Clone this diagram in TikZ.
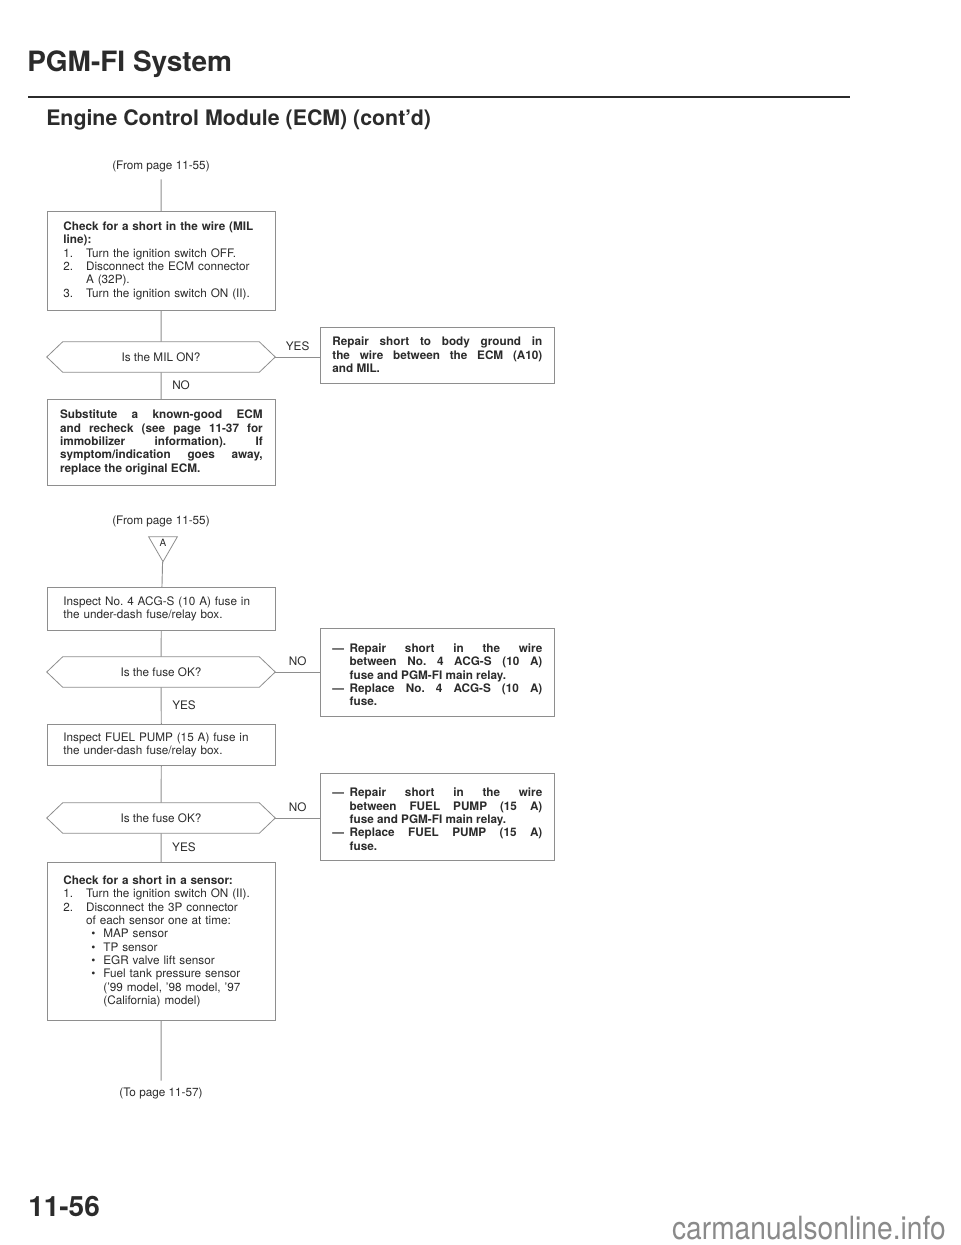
\documentclass[tikz,border=0pt]{standalone}
\usepackage{fontspec}
\setmainfont{TeX Gyre Heros}
\usetikzlibrary{positioning,shapes.geometric}
\definecolor{inkgray}{HTML}{2B2B2B}
\definecolor{linegray}{HTML}{8E8E8E}
\definecolor{webgray}{HTML}{8A8A8A}
\frenchspacing

% one line of a box, indented
\newcommand{\lineat}[2]{\par\noindent\hspace*{#1}{#2}}
% dash item of a repair box
\newcommand{\dashitem}[1]{\par\hangindent=13pt\hangafter=1\noindent\makebox[13pt][l]{\textemdash}#1\par}
% outline of a question node
\newcommand{\qhex}[1]{%
  \draw[linegray, line width=0.6pt] (#1.west) -- ([xshift=12pt]#1.north west)
    -- ([xshift=-12pt]#1.north east) -- (#1.east) -- ([xshift=-12pt]#1.south east)
    -- ([xshift=12pt]#1.south west) -- cycle;}

\tikzset{
  stepbox/.style={draw=linegray, line width=0.6pt, anchor=north west,
    inner xsep=12pt, inner ysep=3pt, text width=147pt, align=left,
    font=\fontsize{8.8}{10}\selectfont, text=inkgray},
  fixbox/.style={stepbox, inner xsep=9pt, text width=157.5pt, align=justify,
    font=\bfseries\fontsize{8.8}{10}\selectfont},
  qbox/.style={minimum width=171pt, minimum height=22.5pt, inner sep=0pt,
    font=\fontsize{8.8}{10}\selectfont, text=inkgray},
  lbl/.style={font=\fontsize{8.8}{10}\selectfont, text=inkgray, inner sep=1pt},
  link/.style={draw=linegray, line width=0.7pt}
}

\begin{document}
\begin{tikzpicture}[x=0.75pt, y=-0.75pt]
\useasboundingbox (0,0) rectangle (960,1245);
\fill[white] (0,0) rectangle (960,1245);

% heading
\node[anchor=west, inner sep=0pt, text=inkgray, font=\bfseries\fontsize{21}{24}\selectfont] (pagetitle) at (27,64) {PGM-FI System};
\draw[inkgray, line width=1.4pt] (28,97) -- (850,97);
\node[anchor=west, inner sep=0pt, text=inkgray, font=\bfseries\fontsize{16}{19}\selectfont] (subtitle) at (46,120) {Engine Control Module (ECM) (cont'd)};

% first part
\node[lbl, inner ysep=5pt] (from1) at (161,167) {(From page 11-55)};
\node[stepbox, minimum height=74.25pt] (chk1) at (47,211) {%
  {\bfseries Check for a short in the wire (MIL}
  \lineat{0pt}{\bfseries line):}
  \lineat{0pt}{\makebox[17pt][l]{1.}Turn the ignition switch OFF.}
  \lineat{0pt}{\makebox[17pt][l]{2.}Disconnect the ECM connector}
  \lineat{17pt}{A (32P).}
  \lineat{0pt}{\makebox[17pt][l]{3.}Turn the ignition switch ON (II).}};
\node[qbox] (q1) at (161,357) {Is the MIL ON?};
\qhex{q1}
\node[fixbox, anchor=west, minimum height=42pt] (rep1) at (320,355) {%
  Repair short to body ground in\linebreak
  the wire between the ECM (A10)\linebreak
  and MIL.};
\node[stepbox, align=justify, inner xsep=9.5pt, text width=152pt,
  font=\bfseries\fontsize{8.8}{10}\selectfont, minimum height=64.5pt] (sub1) at (47,399) {%
  Substitute a known-good ECM\linebreak
  and recheck (see page 11-37 for\linebreak
  immobilizer information). If\linebreak
  symptom/indication goes away,\linebreak
  replace the original ECM.};

\draw[link] (from1) -- (chk1);
\draw[link] (chk1) -- (q1);
\draw[link] (q1.east) -- node[lbl, above=3pt] (yes1) {YES} (q1.east -| rep1.west);
\draw[link] (q1) -- node[lbl, right=7pt] (no1) {NO} (sub1);

% second part
\node[lbl] (from2) at (161,521) {(From page 11-55)};
\node[draw=linegray, line width=0.6pt, regular polygon, regular polygon sides=3,
  shape border rotate=180, minimum size=25pt, inner sep=0pt, text=inkgray,
  font=\fontsize{7.5}{8}\selectfont] (markA) at (163,545) {\raisebox{3pt}{A}};
\node[stepbox, minimum height=32.25pt] (insp1) at (47,587) {%
  Inspect No. 4 ACG-S (10 A) fuse in
  \lineat{0pt}{the under-dash fuse/relay box.}};
\node[qbox] (q2) at (161,672) {Is the fuse OK?};
\qhex{q2}
\node[fixbox, anchor=north west, minimum height=66pt] (rep2) at (320,628) {%
  \dashitem{Repair short in the wire\linebreak
  between No. 4 ACG-S (10 A)\linebreak
  fuse and PGM-FI main relay.}
  \dashitem{Replace No. 4 ACG-S (10 A)\linebreak
  fuse.}};
\node[stepbox, minimum height=30.75pt] (insp2) at (47,724) {%
  Inspect FUEL PUMP (15 A) fuse in
  \lineat{0pt}{the under-dash fuse/relay box.}};
\node[qbox] (q3) at (161,818) {Is the fuse OK?};
\qhex{q3}
\node[fixbox, anchor=north west, minimum height=65.25pt] (rep3) at (320,773) {%
  \dashitem{Repair short in the wire\linebreak
  between FUEL PUMP (15 A)\linebreak
  fuse and PGM-FI main relay.}
  \dashitem{Replace FUEL PUMP (15 A)\linebreak
  fuse.}};
\node[stepbox, minimum height=118.5pt] (chk2) at (47,862) {%
  {\bfseries Check for a short in a sensor:}
  \lineat{0pt}{\makebox[17pt][l]{1.}Turn the ignition switch ON (II).}
  \lineat{0pt}{\makebox[17pt][l]{2.}Disconnect the 3P connector}
  \lineat{17pt}{of each sensor one at time:}
  \lineat{21pt}{\makebox[9pt][l]{\textbullet}MAP sensor}
  \lineat{21pt}{\makebox[9pt][l]{\textbullet}TP sensor}
  \lineat{21pt}{\makebox[9pt][l]{\textbullet}EGR valve lift sensor}
  \lineat{21pt}{\makebox[9pt][l]{\textbullet}Fuel tank pressure sensor}
  \lineat{30pt}{('99 model, '98 model, '97}
  \lineat{30pt}{(California) model)}};
\node[lbl, inner ysep=5pt] (topage) at (161,1093) {(To page 11-57)};

\draw[link] (markA) -- (insp1);
\draw[link] (insp1) -- (q2);
\draw[link] (q2.east) -- node[lbl, above=3pt] (no2) {NO} (q2.east -| rep2.west);
\draw[link] (q2) -- node[lbl, right=7pt] (yes2) {YES} (insp2);
\draw[link] (insp2) -- (q3);
\draw[link] (q3.east) -- node[lbl, above=3pt] (no3) {NO} (q3.east -| rep3.west);
\draw[link] (q3) -- node[lbl, right=7pt] (yes3) {YES} (chk2);
\draw[link] (chk2) -- (topage);

% footer
\node[anchor=west, inner sep=0pt, text=inkgray, font=\bfseries\fontsize{21}{23}\selectfont] (pagenum) at (28,1206) {11-56};
\node[anchor=east, inner sep=0pt, text=webgray, font=\fontsize{24}{26}\selectfont] (website) at (946,1228) {\scalebox{0.88}[1]{carmanualsonline.info}};
\end{tikzpicture}
\end{document}
